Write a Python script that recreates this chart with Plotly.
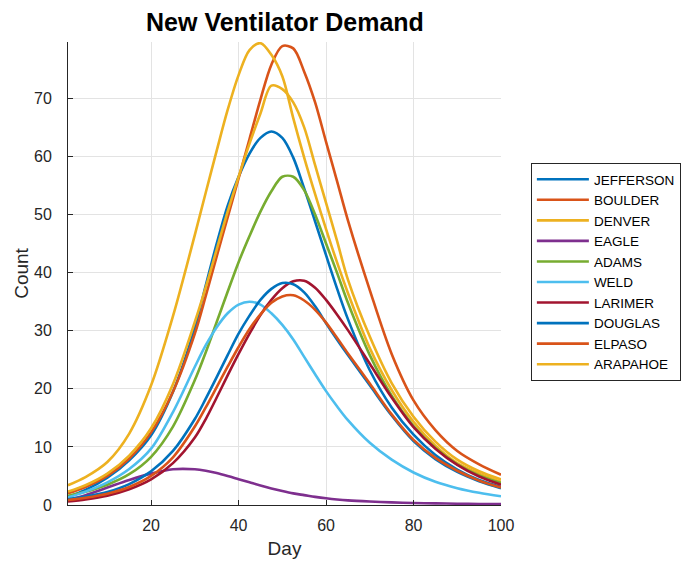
import plotly.graph_objects as go

days = [1, 5, 10, 15, 20, 25, 30, 32.5, 35, 37.5, 40, 42.5, 45, 47.5, 50, 52.5, 55, 57.5, 60, 62.5, 65, 70, 75, 80, 85, 90, 95, 100]

jefferson = [1.4, 2.6, 4.7, 7.7, 12.0, 19.5, 30.5, 37.8, 45.0, 51.5, 56.5, 60.5, 63.2, 64.3, 63.2, 59.8, 54.5, 48.8, 43.0, 37.3, 32.0, 23.2, 16.8, 12.1, 8.6, 6.1, 4.3, 3.1]
boulder = [2.0, 3.1, 5.0, 8.0, 12.5, 19.5, 29.5, 36.0, 42.8, 49.5, 56.2, 63.0, 69.8, 75.8, 79.0, 78.6, 74.6, 69.3, 62.5, 55.8, 49.0, 37.0, 26.0, 18.0, 12.9, 9.3, 7.0, 5.2]
denver = [3.4, 4.8, 7.4, 12.3, 20.6, 32.5, 46.5, 53.8, 61.0, 68.0, 74.0, 78.3, 79.5, 77.5, 73.8, 66.6, 59.8, 53.5, 47.5, 41.8, 36.5, 27.0, 19.8, 14.3, 10.2, 7.2, 5.4, 4.0]
eagle = [0.9, 1.7, 3.0, 4.3, 5.4, 6.15, 6.15, 5.9, 5.5, 5.0, 4.45, 3.9, 3.35, 2.85, 2.4, 2.0, 1.7, 1.4, 1.15, 0.95, 0.8, 0.6, 0.45, 0.35, 0.28, 0.22, 0.18, 0.15]
adams = [1.6, 2.3, 3.5, 5.3, 8.3, 13.5, 21.5, 26.3, 31.5, 36.7, 41.8, 46.3, 50.5, 54.0, 56.5, 56.5, 54.2, 50.0, 45.0, 40.0, 34.8, 25.8, 18.8, 13.6, 9.8, 7.0, 5.1, 3.8]
weld = [1.3, 2.3, 3.9, 6.2, 9.7, 16.0, 23.8, 27.5, 30.6, 33.0, 34.5, 35.0, 34.5, 33.0, 31.0, 28.5, 25.5, 22.5, 19.6, 17.0, 14.6, 10.7, 7.8, 5.6, 4.0, 2.9, 2.1, 1.5]
larimer = [0.6, 0.95, 1.6, 2.7, 4.4, 7.2, 11.6, 14.8, 18.5, 22.3, 26.0, 29.5, 32.7, 35.3, 37.3, 38.5, 38.6, 37.4, 35.3, 32.8, 30.1, 24.3, 18.5, 13.4, 9.7, 6.9, 4.9, 3.5]
douglas = [1.0, 1.45, 2.25, 3.6, 5.8, 9.3, 14.8, 18.3, 22.0, 25.8, 29.5, 32.6, 35.3, 37.2, 38.2, 38.0, 36.6, 34.2, 31.3, 28.5, 25.8, 20.6, 15.4, 11.0, 7.9, 5.7, 4.1, 2.9]
elpaso = [0.85, 1.25, 1.95, 3.1, 5.0, 8.2, 13.5, 16.8, 20.3, 23.8, 27.2, 30.3, 32.8, 34.8, 35.9, 36.1, 35.2, 33.6, 31.4, 28.8, 26.1, 20.9, 15.6, 11.2, 8.1, 5.9, 4.2, 3.0]
arapahoe = [2.3, 3.4, 5.4, 8.5, 13.2, 20.8, 31.5, 37.5, 44.0, 50.5, 56.5, 62.2, 67.4, 72.2, 71.6, 69.3, 65.0, 58.5, 52.0, 45.5, 38.8, 29.0, 21.0, 15.2, 10.9, 7.8, 5.8, 4.4]

names = ["JEFFERSON", "BOULDER", "DENVER", "EAGLE", "ADAMS", "WELD", "LARIMER", "DOUGLAS", "ELPASO", "ARAPAHOE"]
series = [jefferson, boulder, denver, eagle, adams, weld, larimer, douglas, elpaso, arapahoe]
colors = ["#0072BD", "#D95319", "#EDB120", "#7E2F8E", "#77AC30", "#4DBEEE", "#A2142F", "#0072BD", "#D95319", "#EDB120"]

x_ticks = [20, 40, 60, 80, 100]
y_ticks = [0, 10, 20, 30, 40, 50, 60, 70]

FONT = "Liberation Sans, Arial, Helvetica, sans-serif"
AX = "#262626"

fig = go.Figure()
for name, ys, c in zip(names, series, colors):
    fig.add_trace(go.Scatter(x=days, y=ys, name=name, mode="lines",
                             line=dict(color=c, width=2.6, shape="spline", smoothing=0.9)))

# the page body adds an 8px offset at left/top, so margins are reduced by 8px
fig.update_layout(
    width=693, height=562,
    margin=dict(l=60, r=200, t=34, b=65),
    paper_bgcolor="white", plot_bgcolor="white",
    font=dict(family=FONT, color=AX),
    title=dict(text="<b>New Ventilator Demand</b>", x=0.3997, xanchor="center",
               y=0.975, yanchor="middle", font=dict(size=25, color="black", family=FONT)),
    showlegend=True,
    legend=dict(x=1.069, y=0.7387, xanchor="left", yanchor="top",
                bordercolor=AX, borderwidth=1, bgcolor="white",
                font=dict(size=13.5, color="black", family=FONT),
                itemwidth=52, tracegroupgap=0,
                entrywidth=156, entrywidthmode="pixels"),
)
fig.update_xaxes(range=[1, 100], tickvals=x_ticks, ticks="inside", ticklen=5,
                 tickcolor=AX, showline=True, linecolor=AX, linewidth=1, automargin=False,
                 showgrid=True, gridcolor="#E3E3E3", gridwidth=1, zeroline=False,
                 tickfont=dict(size=16, color=AX), ticklabelstandoff=6,
                 title=dict(text="Day", font=dict(size=19, color=AX), standoff=8))
fig.update_yaxes(range=[0, 79.7], tickvals=y_ticks, ticks="inside", ticklen=5,
                 tickcolor=AX, showline=True, linecolor=AX, linewidth=1, automargin=False,
                 showgrid=True, gridcolor="#E3E3E3", gridwidth=1, zeroline=False,
                 tickfont=dict(size=16, color=AX), ticklabelstandoff=12,
                 title=dict(text="Count", font=dict(size=19, color=AX), standoff=0))

fig.write_html("out.html")
